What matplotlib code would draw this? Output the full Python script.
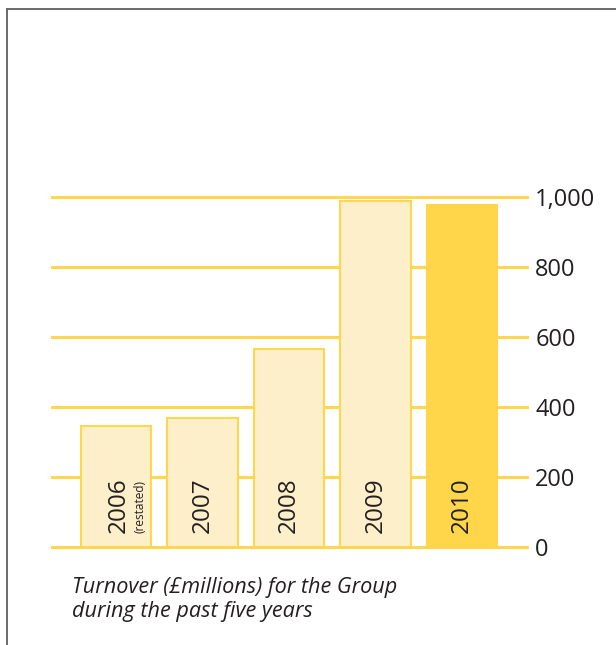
import matplotlib
matplotlib.use('Agg')
import matplotlib.pyplot as plt
from matplotlib.lines import Line2D
from matplotlib.transforms import offset_copy

# Turnover for the Group, £ millions
years = ['2006', '2007', '2008', '2009', '2010']
turnover = [346, 367, 566, 988, 976]
y_ticks = [0, 200, 400, 600, 800, 1000]
y_tick_labels = ['0', '200', '400', '600', '800', '1,000']
caption_lines = ['Turnover (£millions) for the Group',
                 'during the past five years']

GRID_YELLOW = '#FFD64F'
PALE_FILL = '#FDEFC9'
CURRENT_FILL = '#FFD54A'
TEXT = '#231F20'

plt.rcParams['font.family'] = ['Open Sans', 'DejaVu Sans']

fig = plt.figure(figsize=(6.16, 6.45), dpi=100)
ax = fig.add_axes([0.0828, 0.1411, 0.776, 0.5651])
ax.set_xlim(-0.751, 4.775)
ax.set_ylim(-20, 1020)

# horizontal rules behind the bars
for t in y_ticks:
    ax.axhline(t, color=GRID_YELLOW, lw=2.2, zorder=1)

x = list(range(len(years)))
fills = [PALE_FILL] * (len(years) - 1) + [CURRENT_FILL]
edges = [GRID_YELLOW] * (len(years) - 1) + [CURRENT_FILL]
ax.bar(x, turnover, width=0.82, color=fills, edgecolor=edges,
       linewidth=1.5, zorder=2)

# year labels, rotated inside the bars
for i, yr in enumerate(years):
    dx = 3 if i == 0 else 0
    tr = offset_copy(ax.transData, fig=fig, x=dx, y=0, units='dots')
    ax.text(i, 40, yr, rotation=90, ha='center', va='bottom',
            fontsize=17.5, color=TEXT, transform=tr, zorder=3)
tr = offset_copy(ax.transData, fig=fig, x=24, y=0, units='dots')
ax.text(0, 40, '(restated)', rotation=90, ha='center', va='bottom',
        fontsize=8.5, color=TEXT, transform=tr, zorder=3)

ax.yaxis.tick_right()
ax.set_yticks(y_ticks)
ax.set_yticklabels(y_tick_labels, fontsize=17, color=TEXT)
ax.tick_params(axis='y', length=0, pad=4.5)
ax.set_xticks([])
for s in ax.spines.values():
    s.set_visible(False)

# caption under the chart
for k, line in enumerate(caption_lines):
    fig.text(72 / 616, 1 - (593 + 24 * k) / 645, line, fontsize=15.6,
             style='italic', fontweight='medium', color=TEXT,
             va='baseline')

# thin frame along top and left edge
fig.add_artist(Line2D([6.5 / 616, 1], [1 - 8.5 / 645, 1 - 8.5 / 645],
                      color='#6a6a6a', lw=1.4))
fig.add_artist(Line2D([6.5 / 616, 6.5 / 616], [0, 1 - 8.5 / 645],
                      color='#6a6a6a', lw=1.4))

fig.savefig('out.png', dpi=100)
